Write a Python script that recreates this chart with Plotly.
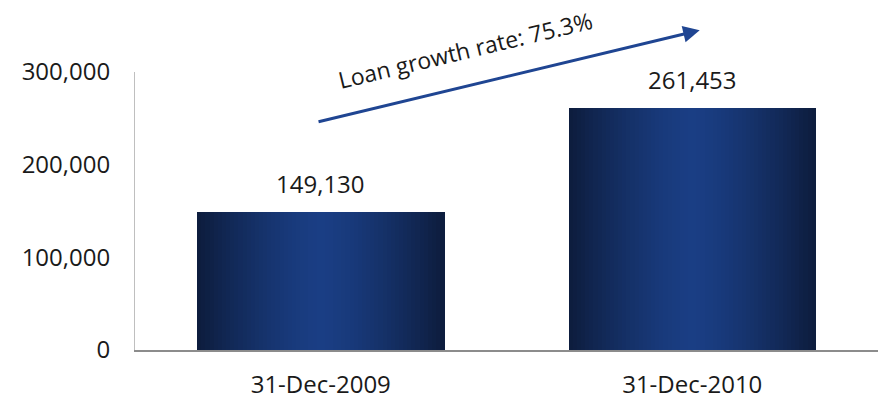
import plotly.graph_objects as go

# Loan balances at year end
categories = ["31-Dec-2009", "31-Dec-2010"]
loans = [149130, 261453]
growth_label = "Loan growth rate: 75.3%"
y_ticks = [0, 100000, 200000, 300000]

FONT = "Open Sans, Noto Sans, sans-serif"
EDGE = (13, 28, 60)
MID = (26, 62, 132)

def shade(t):
    # horizontal gradient: dark edges, lighter blue centre
    d = abs(t - 0.5) * 2
    d = d ** 1.4
    r, g, b = (round(MID[i] + (EDGE[i] - MID[i]) * d) for i in range(3))
    return f"rgb({r},{g},{b})"

fig = go.Figure()

bar_w = 0.665
n = 60
step = bar_w / n
for i in range(n):
    fig.add_trace(go.Bar(
        x=categories, y=loans,
        width=step * 1.15, offset=-bar_w / 2 + i * step,
        marker=dict(color=shade((i + 0.5) / n), line=dict(width=0)),
        hoverinfo="skip", showlegend=False,
    ))

# value labels above the bars
for c, v in zip(categories, loans):
    fig.add_annotation(x=c, y=v, text=f"{v:,}", showarrow=False,
                       yanchor="bottom", yshift=10,
                       font=dict(family=FONT, size=24, color="#1a1a1a"))

# growth arrow between the two years
fig.add_annotation(x=1.02, y=345000, ax=-0.01, ay=246000,
                   xref="x", yref="y", axref="x", ayref="y",
                   text="", showarrow=True, arrowhead=2, arrowsize=1.1,
                   arrowwidth=3, arrowcolor="#1F4592")
fig.add_annotation(x=0.444, y=1.08, xref="paper", yref="paper",
                   xanchor="center", yanchor="middle",
                   text=growth_label, showarrow=False, textangle=-13.5,
                   font=dict(family=FONT, size=23, color="#1a1a1a"))

fig.update_layout(
    width=882, height=402,
    margin=dict(l=135, r=4, t=72, b=52, autoexpand=False),
    plot_bgcolor="white", paper_bgcolor="white",
    barmode="overlay", bargap=0,
    font=dict(family=FONT, size=24, color="#1a1a1a"),
)
fig.update_xaxes(showline=True, linecolor="#8c8c8c", linewidth=2,
                 showgrid=False, ticks="", ticklabelstandoff=12,
                 automargin=False, tickfont=dict(size=24))
fig.update_yaxes(range=[0, 300000], tickvals=y_ticks, tickformat=",",
                 showline=True, linecolor="#bfbfbf", linewidth=1,
                 showgrid=False, zeroline=False, ticks="",
                 ticklabelstandoff=19, automargin=False,
                 tickfont=dict(size=24))

fig.write_html("out.html")
